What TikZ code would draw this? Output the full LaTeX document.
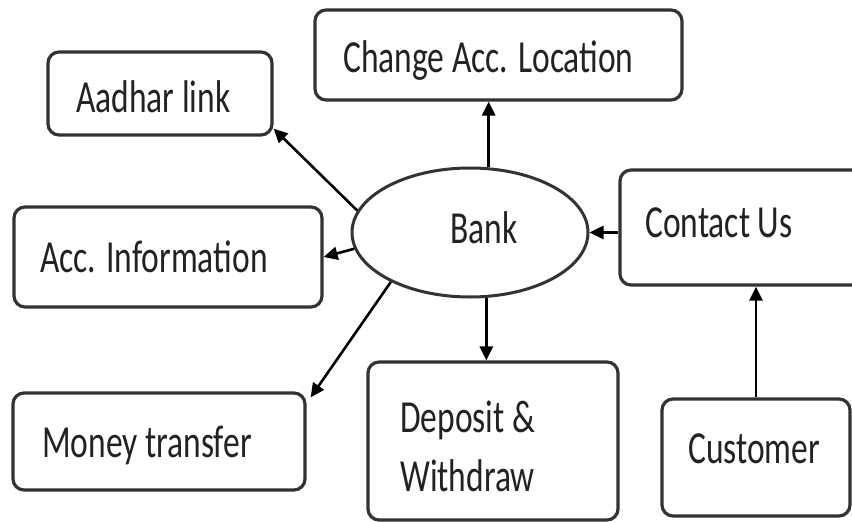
\documentclass[tikz,border=0pt]{standalone}
\usepackage{fontspec}
\setmainfont{Carlito}
\usetikzlibrary{arrows.meta,calc,shapes.geometric}
\definecolor{boxc}{HTML}{333333}
\definecolor{txtc}{HTML}{222222}
\newcommand{\tstretch}[1]{\scalebox{1}[1.37]{#1}}
\begin{document}
\begin{tikzpicture}[x=1pt,y=-1pt,
  box/.style={draw=boxc, line width=3.2pt, rounded corners=11pt, inner sep=0pt, fill=white},
  arr/.style={draw=black, line width=2.6pt, -{Triangle[length=14pt,width=13pt]}},
  lbl/.style={anchor=base west, inner sep=0pt, text=txtc, font=\fontsize{33.5}{43.6}\selectfont}]
\useasboundingbox (0,0) rectangle (852,522);
\clip (0,0) rectangle (852,522);
\fill[white] (0,0) rectangle (852,522);

% boxes
\node[box, minimum width=224pt, minimum height=83pt]  (aadhar)   at (160,93.5)  {};
\node[box, minimum width=367pt, minimum height=90pt]  (change)   at (498.5,55)  {};
\node[box, minimum width=308pt, minimum height=100pt] (acc)      at (168,257)   {};
\node[box, minimum width=250pt, minimum height=115pt] (contact)  at (745,227.5) {};
\node[box, minimum width=292pt, minimum height=97pt]  (money)    at (159,441.5) {};
\node[box, minimum width=250pt, minimum height=158pt] (deposit)  at (493,441)   {};
\node[box, minimum width=188pt, minimum height=117pt] (customer) at (756,457.5) {};
\node[ellipse, draw=boxc, line width=3pt, fill=white, minimum width=236pt, minimum height=129pt, inner sep=0pt] (bank) at (470,232.5) {};

% labels
\node[lbl] (taadhar)   at (76,112)  {\tstretch{Aadhar link}};
\node[lbl] (tchange)   at (343,72)  {\tstretch{Change Acc. Location}};
\node[lbl] (tacc)      at (40,272)  {\tstretch{Acc. Information}};
\node[lbl] (tbank)     at (450,243) {\tstretch{Bank}};
\node[lbl] (tcontact)  at (645,237) {\tstretch{Contact Us}};
\node[lbl] (tmoney)    at (42,457)  {\tstretch{Money transfer}};
\node[lbl] (tdeposit)  at (400,432) {\tstretch{\begin{tabular}[t]{@{}l@{}}Deposit \&\\Withdraw\end{tabular}}};
\node[lbl] (tcustomer) at (688,463) {\tstretch{Customer}};

% connectors
\draw[arr] (bank.169) -- ($(aadhar.south east)+(0,-8)$);
\draw[arr] (bank.188) -- (acc.east);
\draw[arr] (bank.212) -- ($(money.north east)+(4,6)$);
\draw[arr] (bank.74) -- (bank.74 |- change.south);
\draw[arr] (bank.284) -- (bank.284 |- deposit.north);
\draw[arr] (contact.west |- bank.east) -- (bank.east);
\draw[arr] (customer.north) -- (customer.north |- contact.south);
\end{tikzpicture}
\end{document}
